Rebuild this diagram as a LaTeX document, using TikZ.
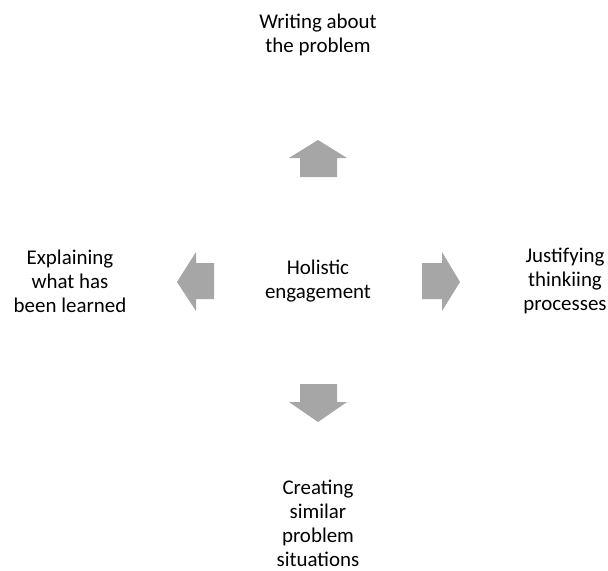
\documentclass[tikz,border=0pt]{standalone}
\usepackage{fontspec}
\setmainfont{Carlito}
\usepackage[dvipsnames]{xcolor}
\definecolor{arrowgray}{HTML}{A6A6A6}

\begin{document}
\begin{tikzpicture}[x=0.75pt, y=-0.75pt,
    label text/.style={align=center, inner sep=0pt,
        font=\fontsize{15.7pt}{18pt}\selectfont},
    fat arrow/.style={fill=arrowgray, draw=none}]
    \useasboundingbox (0,0) rectangle (608,571);
    % Centre
    \node[label text] (centre) at (318,281) {Holistic\\engagement};
    % Four directions
    \node[label text] (top) at (318,35) {Writing about\\the problem};
    \node[label text] (left) at (70,281) {Explaining\\what has\\been learned};
    \node[label text] (right) at (565,281) {Justifying\\thinkiing\\processes};
    \node[label text] (bottom) at (318,523) {Creating\\similar\\problem\\situations};
    % Block arrows
    \fill[fat arrow] (318,140) -- (347,158) -- (337,158) -- (337,177)
        -- (300,177) -- (300,158) -- (289,158) -- cycle;
    \fill[fat arrow] (318,422) -- (347,402) -- (337,402) -- (337,384)
        -- (300,384) -- (300,402) -- (289,402) -- cycle;
    \fill[fat arrow] (177,282) -- (196,252) -- (196,263) -- (214,263)
        -- (214,299) -- (196,299) -- (196,311) -- cycle;
    \fill[fat arrow] (460,282) -- (442,252) -- (442,263) -- (422,263)
        -- (422,299) -- (442,299) -- (442,311) -- cycle;
\end{tikzpicture}
\end{document}
